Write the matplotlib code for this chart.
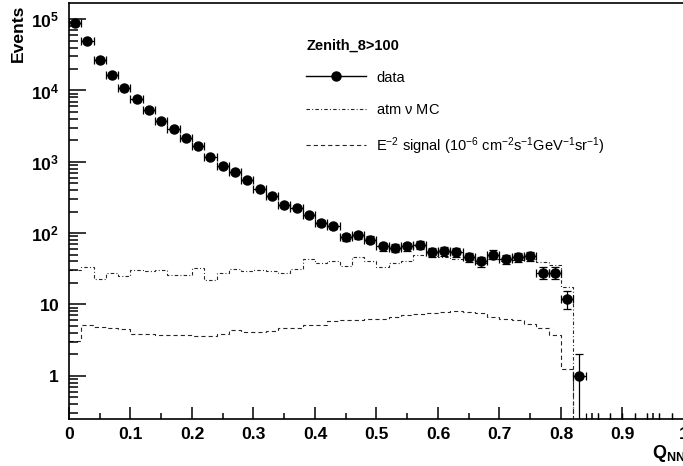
import numpy as np
import matplotlib
matplotlib.use('Agg')
import matplotlib.pyplot as plt
from matplotlib.lines import Line2D
from matplotlib.ticker import FixedLocator, LogLocator, NullFormatter

plt.rcParams['font.family'] = ['Liberation Sans', 'DejaVu Sans']
plt.rcParams['mathtext.fontset'] = 'custom'
plt.rcParams['mathtext.rm'] = 'Liberation Sans'
plt.rcParams['mathtext.it'] = 'Liberation Sans:italic'
plt.rcParams['mathtext.bf'] = 'Liberation Sans:bold'
plt.rcParams['mathtext.default'] = 'regular'
plt.rcParams['lines.scale_dashes'] = False

# Q_NN histogram, 50 bins of width 0.02 between 0 and 1
bin_edges = np.linspace(0.0, 1.0, 51)

# observed events per bin (zero above 0.84)
data_counts = [88700, 49200, 26400, 16500, 10900, 7530, 5400, 3710, 2900, 2140,
               1670, 1160, 887, 718, 548, 415, 334, 245, 225, 180,
               139, 124, 87, 93, 81, 65, 62, 65, 69, 54,
               56, 54, 46, 40, 50, 43, 46, 48, 28, 28,
               12, 1, 0, 0, 0, 0, 0, 0, 0, 0]

# atmospheric neutrino simulation
atm_mc = [30, 34, 23, 28, 25, 30, 29, 30, 26, 25.5,
          32, 22, 27.5, 31.5, 29, 30, 29, 27.5, 31, 43,
          37.5, 40.5, 35, 46, 40, 34, 38, 41, 50, 48,
          46, 44, 42, 38, 44, 40, 42, 44, 39, 36,
          17.5, 0, 0, 0, 0, 0, 0, 0, 0, 0]

# E^-2 signal simulation
signal_mc = [3.1, 5.1, 4.9, 4.6, 4.5, 3.8, 3.8, 3.75, 3.7, 3.7,
             3.6, 3.65, 3.8, 4.35, 4.05, 4.1, 4.25, 4.6, 4.65, 5.1,
             5.1, 5.8, 6.0, 6.05, 6.2, 6.25, 6.6, 7.2, 7.4, 7.5,
             7.8, 8.0, 7.8, 7.6, 6.6, 6.2, 6.0, 5.4, 4.7, 3.7,
             1.23, 0, 0, 0, 0, 0, 0, 0, 0, 0]

ytick_vals = [1, 10, 100, 1000, 10000, 100000]
ytick_labels = [r'$\mathbf{1}\ $', r'$\mathbf{10}\ $', r'$\mathbf{10^{2}}$',
                r'$\mathbf{10^{3}}$', r'$\mathbf{10^{4}}$', r'$\mathbf{10^{5}}$']
xtick_vals = [0, 0.1, 0.2, 0.3, 0.4, 0.5, 0.6, 0.7, 0.8, 0.9, 1.0]
xtick_labels = ['0', '0.1', '0.2', '0.3', '0.4', '0.5', '0.6', '0.7', '0.8', '0.9', '1']

ymin, ymax = 0.25, 1.7e5

dash_dot = (0, (2.5, 1.6, 0.7, 1.6))
dashed = (0, (3.0, 2.2))
mc_color = '0.15'

fig = plt.figure(figsize=(6.83, 4.66), dpi=100)
ax = fig.add_axes([0.101, 0.1015, 0.9004, 0.8927])

counts = np.array(data_counts, dtype=float)
centers = 0.5 * (bin_edges[:-1] + bin_edges[1:])
half_width = 0.5 * np.diff(bin_edges)

ax.stairs(atm_mc, bin_edges, baseline=None, color=mc_color, lw=0.8, linestyle=dash_dot)
ax.stairs(signal_mc, bin_edges, baseline=None, color=mc_color, lw=0.8, linestyle=dashed)

# data points with poisson errors
filled = counts > 0
err = np.sqrt(counts[filled])
err_low = np.minimum(err, counts[filled] - 1e-3)
ax.errorbar(centers[filled], counts[filled], xerr=half_width[filled], yerr=[err_low, err],
            fmt='o', color='k', ms=6.5, elinewidth=0.9, capsize=3, capthick=0.9)
# empty bins only leave their horizontal bars on the floor of the plot
ax.errorbar(centers[~filled], np.full((~filled).sum(), ymin), xerr=half_width[~filled],
            fmt='none', ecolor='k', elinewidth=0.9, capsize=4, capthick=0.9)

ax.set_yscale('log')
ax.set_xlim(0, 1)
ax.set_ylim(ymin, ymax)

ax.yaxis.set_major_locator(FixedLocator(ytick_vals))
ax.set_yticklabels(ytick_labels)
ax.yaxis.set_minor_locator(LogLocator(base=10, subs=np.arange(2, 10), numticks=30))
ax.yaxis.set_minor_formatter(NullFormatter())
ax.set_xticks(xtick_vals)
ax.set_xticklabels(xtick_labels)
ax.set_xticks(np.arange(0.05, 1.0, 0.1), minor=True)

ax.tick_params(axis='both', which='both', direction='in', width=1.1, labelsize=12.6)
ax.tick_params(axis='y', which='major', length=12, pad=7)
ax.tick_params(axis='y', which='minor', length=6.5)
ax.tick_params(axis='x', which='major', length=8.5, pad=6)
ax.tick_params(axis='x', which='minor', length=4.3)
for lab in ax.get_xticklabels():
    lab.set_fontweight('bold')
for sp in ax.spines.values():
    sp.set_linewidth(1.2)

fig.text(18 / 683, 1 - 5 / 466, 'Events', rotation=90, ha='center', va='top',
         fontsize=12.6, fontweight='bold')
fig.text(652 / 683, 8 / 466, r'$\mathbf{Q_{NN}}$', ha='left', va='baseline', fontsize=13)

handles = [Line2D([], [], color='k', marker='o', ms=6.5, lw=1.0),
           Line2D([], [], color=mc_color, lw=0.8, linestyle=dash_dot),
           Line2D([], [], color=mc_color, lw=0.8, linestyle=dashed)]
labels = ['data', r'atm $\nu$ MC',
          r'E$^{-2}$ signal (10$^{-6}$ cm$^{-2}$s$^{-1}$GeV$^{-1}$sr$^{-1}$)']
ax.legend(handles, labels, title='Zenith_8>100', alignment='left',
          title_fontproperties={'weight': 'bold', 'size': 10.5},
          loc='upper left', bbox_to_anchor=(299 / 683, 1 - 31 / 466),
          bbox_transform=fig.transFigure, frameon=False, fontsize=10.5,
          borderpad=0, handlelength=4.1, handletextpad=0.7, labelspacing=1.25)

fig.savefig('out.png', dpi=100)
